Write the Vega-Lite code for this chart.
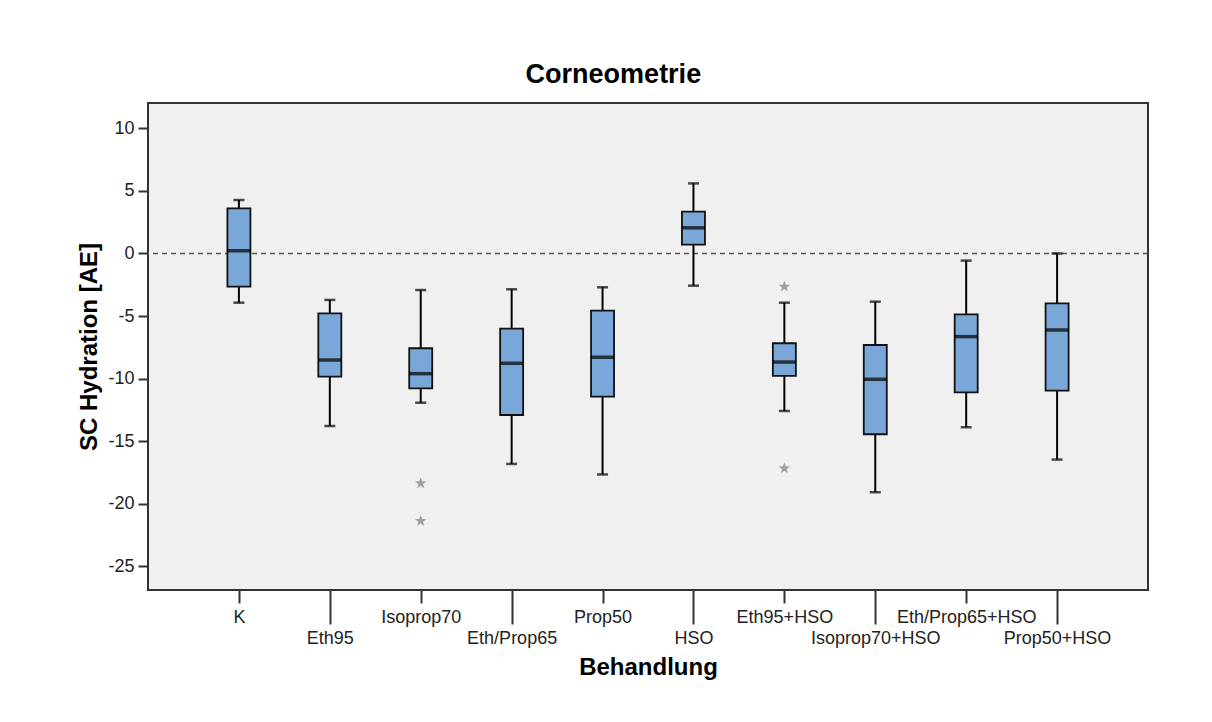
{
  "$schema": "https://vega.github.io/schema/vega-lite/v6.json",
  "width": 1000,
  "height": 487,
  "padding": {"left": 77, "top": 61, "right": 10, "bottom": 10},
  "background": "white",
  "title": {
    "text": "Corneometrie",
    "fontSize": 27,
    "font": "Liberation Sans",
    "fontWeight": "bold",
    "color": "#000000",
    "anchor": "middle",
    "frame": "bounds",
    "offset": 14
  },
  "config": {
    "font": "Liberation Sans",
    "view": {"fill": "#f0f0f0", "stroke": "#333333", "strokeWidth": 2},
    "axis": {
      "labelFont": "Liberation Sans",
      "labelFontSize": 18,
      "labelColor": "#222222",
      "titleFont": "Liberation Sans",
      "titleFontSize": 24,
      "titleFontWeight": "bold",
      "titleColor": "#000000",
      "tickColor": "#333333",
      "tickWidth": 2,
      "domain": false,
      "grid": false,
      "labelOverlap": false,
      "labelBound": false,
      "labelFlush": false
    }
  },
  "datasets": {
    "boxes": [
      {"cat": "K", "min": -3.93, "q1": -2.65, "median": 0.22, "q3": 3.61, "max": 4.27},
      {"cat": "Eth95", "min": -13.78, "q1": -9.84, "median": -8.51, "q3": -4.78, "max": -3.71},
      {"cat": "Isoprop70", "min": -11.92, "q1": -10.77, "median": -9.6, "q3": -7.57, "max": -2.92},
      {"cat": "Eth/Prop65", "min": -16.81, "q1": -12.9, "median": -8.77, "q3": -6.0, "max": -2.86},
      {"cat": "Prop50", "min": -17.65, "q1": -11.44, "median": -8.29, "q3": -4.57, "max": -2.7},
      {"cat": "HSO", "min": -2.57, "q1": 0.7, "median": 2.05, "q3": 3.35, "max": 5.6},
      {"cat": "Eth95+HSO", "min": -12.58, "q1": -9.78, "median": -8.67, "q3": -7.17, "max": -3.93},
      {"cat": "Isoprop70+HSO", "min": -19.07, "q1": -14.44, "median": -10.05, "q3": -7.31, "max": -3.85},
      {"cat": "Eth/Prop65+HSO", "min": -13.88, "q1": -11.09, "median": -6.64, "q3": -4.86, "max": -0.57},
      {"cat": "Prop50+HSO", "min": -16.46, "q1": -10.96, "median": -6.11, "q3": -3.98, "max": 0.0}
    ],
    "outliers": [
      {"cat": "Isoprop70", "value": -18.36},
      {"cat": "Isoprop70", "value": -21.37},
      {"cat": "Eth95+HSO", "value": -2.65},
      {"cat": "Eth95+HSO", "value": -17.16}
    ],
    "zero": [{"z": 0}]
  },
  "layer": [
    {
      "data": {"name": "zero"},
      "mark": {"type": "rule", "color": "#555555", "strokeWidth": 1.5, "strokeDash": [5, 4]},
      "encoding": {
        "y": {
          "field": "z",
          "type": "quantitative",
          "scale": {"domain": [-26.88, 12.02], "nice": false, "zero": false},
          "title": "SC Hydration [AE]",
          "axis": {
            "values": [-25, -20, -15, -10, -5, 0, 5, 10],
            "labelExpr": "replace(datum.label, '\u2212', '-')",
            "tickSize": 10,
            "labelPadding": 4,
            "titlePadding": 6
          }
        }
      }
    },
    {
      "data": {"name": "boxes"},
      "mark": {"type": "rule", "color": "#000000", "strokeWidth": 2},
      "encoding": {
        "x": {
          "field": "cat",
          "type": "nominal",
          "scale": {"type": "point", "domain": ["K", "Eth95", "Isoprop70", "Eth/Prop65", "Prop50", "HSO", "Eth95+HSO", "Isoprop70+HSO", "Eth/Prop65+HSO", "Prop50+HSO"], "padding": 1.0556},
          "axis": {
            "tickSize": {"condition": {"test": "indexof(['Eth95','Eth/Prop65','HSO','Isoprop70+HSO','Prop50+HSO'], datum.value) >= 0", "value": 34}, "value": 13},
            "labelPadding": 5,
            "labelAngle": 0,
            "title": "Behandlung",
            "titlePadding": 8
          }
        },
        "y": {"field": "min", "type": "quantitative", "title": "SC Hydration [AE]"},
        "y2": {"field": "max"}
      }
    },
    {
      "data": {"name": "boxes"},
      "mark": {"type": "tick", "color": "#000000", "size": 11, "thickness": 2.5},
      "encoding": {
        "x": {"field": "cat", "type": "nominal"},
        "y": {"field": "min", "type": "quantitative", "title": "SC Hydration [AE]"}
      }
    },
    {
      "data": {"name": "boxes"},
      "mark": {"type": "tick", "color": "#000000", "size": 11, "thickness": 2.5},
      "encoding": {
        "x": {"field": "cat", "type": "nominal"},
        "y": {"field": "max", "type": "quantitative", "title": "SC Hydration [AE]"}
      }
    },
    {
      "data": {"name": "boxes"},
      "mark": {"type": "bar", "size": 23, "fill": "#79a8d8", "stroke": "#111111", "strokeWidth": 1.8},
      "encoding": {
        "x": {"field": "cat", "type": "nominal"},
        "y": {"field": "q1", "type": "quantitative", "title": "SC Hydration [AE]"},
        "y2": {"field": "q3"}
      }
    },
    {
      "data": {"name": "boxes"},
      "mark": {"type": "tick", "color": "#000000", "size": 23, "thickness": 3.5},
      "encoding": {
        "x": {"field": "cat", "type": "nominal"},
        "y": {"field": "median", "type": "quantitative", "title": "SC Hydration [AE]"}
      }
    },
    {
      "data": {"name": "outliers"},
      "mark": {"type": "point", "shape": "M0,-1L0.235,-0.324L0.951,-0.309L0.38,0.124L0.588,0.809L0,0.4L-0.588,0.809L-0.38,0.124L-0.951,-0.309L-0.235,-0.324Z", "filled": true, "color": "#a0a0a0", "size": 150, "opacity": 1},
      "encoding": {
        "x": {"field": "cat", "type": "nominal"},
        "y": {"field": "value", "type": "quantitative", "title": "SC Hydration [AE]"}
      }
    }
  ]
}
